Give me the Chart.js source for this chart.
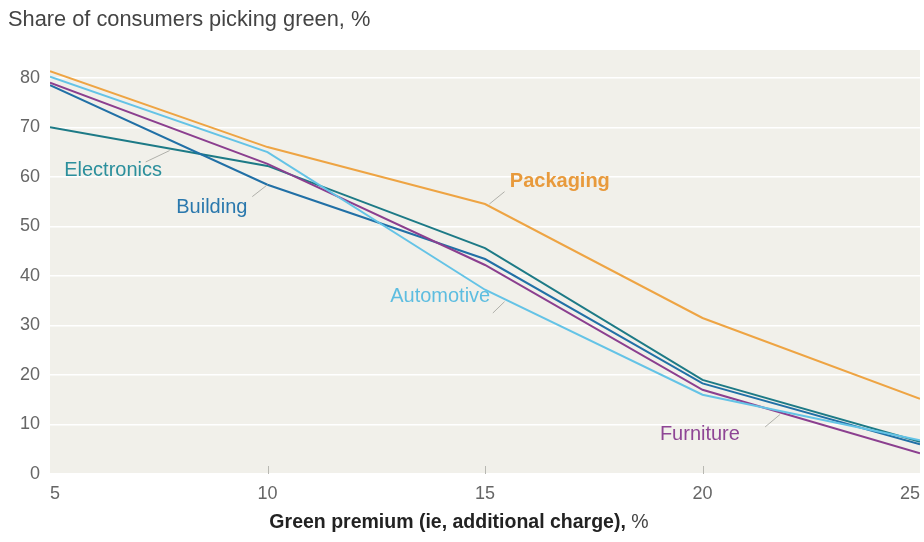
<!DOCTYPE html>
<html>
<head>
<meta charset="utf-8">
<script src="https://cdn.jsdelivr.net/npm/chart.js@4.4.0/dist/chart.umd.min.js"></script>
<style>
  html, body { margin: 0; padding: 0; background: #fff; }
  #wrap { width: 924px; height: 542px; position: relative; }
</style>
</head>
<body>
<div id="wrap"><canvas id="greenChart" width="924" height="542"></canvas></div>
<script>
// green premium, % (x values)
var premium = [5, 10, 15, 20, 25];

// share of consumers picking green, %
var packaging   = [81.3, 66.0, 54.5, 31.5, 15.2];
var automotive  = [80.2, 65.0, 37.2, 16.0, 6.8];
var furniture   = [79.0, 62.6, 42.2, 17.0, 4.2];
var building    = [78.5, 58.4, 43.4, 18.3, 6.0];
var electronics = [70.0, 62.2, 45.6, 19.0, 6.5];

var xTicks = [5, 10, 15, 20, 25];
var yTicks = [0, 10, 20, 30, 40, 50, 60, 70, 80];

var FONT = "'Liberation Sans', Arial, sans-serif";

function pts(vals) {
    var out = [];
    for (var i = 0; i < premium.length; i++) {
        out.push({x: premium[i], y: vals[i]});
    }
    return out;
}

// series labels: text, anchor (data coords), leader line (data coords)
var seriesLabels = [
    {text: 'Electronics', color: '#2b8f9c', bold: false, at: [6.45, 61.2], lead: [[7.2, 63.0], [7.75, 65.3]]},
    {text: 'Building',    color: '#2a78ad', bold: false, at: [8.72, 53.9], lead: [[9.65, 56.0], [10.0, 58.4]]},
    {text: 'Packaging',   color: '#e89a3c', bold: true,  at: [16.72, 59.0], lead: [[15.45, 57.0], [15.1, 54.5]]},
    {text: 'Automotive',  color: '#5dbde0', bold: false, at: [13.97, 35.8], lead: [[15.18, 32.5], [15.45, 34.8]]},
    {text: 'Furniture',   color: '#8e4595', bold: false, at: [19.94, 7.9], lead: [[21.44, 9.5], [21.78, 12.0]]}
];

var decor = {
    id: 'decor',
    beforeDraw: function(chart) {
        var ca = chart.chartArea, c = chart.ctx;
        c.save();
        c.fillStyle = '#f1f0ea';
        c.fillRect(ca.left, ca.top, ca.right - ca.left, ca.bottom - ca.top);
        c.restore();
    },
    afterDraw: function(chart) {
        var c = chart.ctx, ca = chart.chartArea;
        var xs = chart.scales.x, ys = chart.scales.y;
        c.save();
        // small tick marks at the bottom of the plot
        c.strokeStyle = '#b8b8b2';
        c.lineWidth = 1;
        [10, 15, 20].forEach(function(v) {
            var px = Math.round(xs.getPixelForValue(v)) + 0.5;
            c.beginPath();
            c.moveTo(px, ca.bottom - 8);
            c.lineTo(px, ca.bottom);
            c.stroke();
        });
        // series labels with leader lines
        seriesLabels.forEach(function(l) {
            c.strokeStyle = '#b0b0aa';
            c.lineWidth = 1;
            c.beginPath();
            c.moveTo(xs.getPixelForValue(l.lead[0][0]), ys.getPixelForValue(l.lead[0][1]));
            c.lineTo(xs.getPixelForValue(l.lead[1][0]), ys.getPixelForValue(l.lead[1][1]));
            c.stroke();
            c.fillStyle = l.color;
            c.font = (l.bold ? 'bold ' : '') + '20px ' + FONT;
            c.textAlign = 'center';
            c.textBaseline = 'middle';
            c.fillText(l.text, xs.getPixelForValue(l.at[0]), ys.getPixelForValue(l.at[1]));
        });
        // chart title
        c.fillStyle = '#444';
        c.font = '21.8px ' + FONT;
        c.textAlign = 'left';
        c.textBaseline = 'middle';
        c.fillText('Share of consumers picking green, %', 8, 20);
        // x axis title, bold part + regular %
        var t1 = 'Green premium (ie, additional charge), ';
        var t2 = '%';
        c.font = 'bold 19.5px ' + FONT;
        var w1 = c.measureText(t1).width;
        c.font = '19.5px ' + FONT;
        var w2 = c.measureText(t2).width;
        var x0 = 459 - (w1 + w2) / 2;
        c.fillStyle = '#222';
        c.font = 'bold 19.5px ' + FONT;
        c.fillText(t1, x0, 523);
        c.fillStyle = '#444';
        c.font = '19.5px ' + FONT;
        c.fillText(t2, x0 + w1, 523);
        c.restore();
    }
};

var lineDs = function(label, vals, color) {
    return {
        label: label,
        data: pts(vals),
        borderColor: color,
        backgroundColor: color,
        borderWidth: 2,
        pointRadius: 0,
        tension: 0,
        fill: false
    };
};

var ctx = document.getElementById('greenChart');
var greenChart = new Chart(ctx, {
    type: 'line',
    data: {
        datasets: [
            lineDs('Packaging', packaging, '#eea443'),
            lineDs('Automotive', automotive, '#64c3e6'),
            lineDs('Furniture', furniture, '#8b3f8f'),
            lineDs('Building', building, '#2170a6'),
            lineDs('Electronics', electronics, '#1d7a86')
        ]
    },
    options: {
        responsive: false,
        animation: false,
        layout: {padding: {top: 50, left: 0, right: 4, bottom: 0}},
        plugins: {
            legend: {display: false},
            tooltip: {enabled: false},
            title: {display: false}
        },
        scales: {
            x: {
                type: 'linear',
                min: 5,
                max: 25,
                afterBuildTicks: function(s) {
                    s.ticks = xTicks.map(function(v) { return {value: v}; });
                },
                afterFit: function(s) {
                    s.height = 68;
                    s.paddingLeft = 0;
                    s.paddingRight = 0;
                },
                grid: {display: false},
                border: {display: false},
                ticks: {
                    color: '#666',
                    font: {family: FONT, size: 18},
                    padding: 1,
                    align: 'inner',
                    maxRotation: 0
                }
            },
            y: {
                min: 0,
                max: 85.6,
                afterBuildTicks: function(s) {
                    s.ticks = yTicks.map(function(v) { return {value: v}; });
                },
                afterFit: function(s) {
                    s.width = 50;
                },
                grid: {color: '#ffffff', lineWidth: 1.5, drawTicks: false},
                border: {display: false},
                ticks: {
                    color: '#666',
                    font: {family: FONT, size: 18},
                    padding: 10
                }
            }
        }
    },
    plugins: [decor]
});
</script>
</body>
</html>
